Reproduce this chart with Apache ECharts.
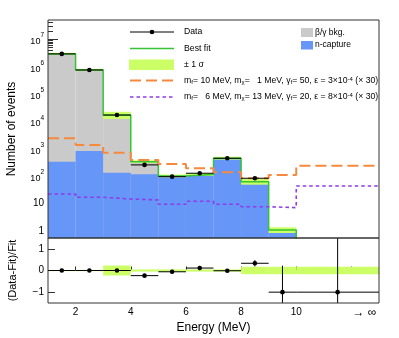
<!DOCTYPE html>
<html><head><meta charset="utf-8">
<script src="https://cdn.jsdelivr.net/npm/echarts@6/dist/echarts.min.js"></script>
<style>html,body{margin:0;padding:0;background:#fff}#c{width:399px;height:338px}</style>
</head><body><div id="c"></div>
<script>
// ---------- data ----------
const binEdges = [1, 2, 3, 4, 5, 6, 7, 8, 9, 10, 13];
const dataCounts = [2.9e6, 7.5e5, 1.7e4, 258, 96, 128, 450, 84, 0, 0];
const dataErrors = [1703, 866, 130, 16.1, 9.8, 11.3, 21.2, 9.2, 1.33, 1.33];
const fitNCapture = [338, 832, 134, 117, 98, 115, 455, 63, 1.09, 0.02];
const fitBetaGamma = [2.9e6, 7.49e5, 16870, 221, 4, 0, 0, 0, 0, 0];
const fitRelSigma = [0.025, 0.025, 0.23, 0.05, 0.05, 0.05, 0.05, 0.17, 0.17, 0.17];
const signalA = [2417, 1377, 721, 390, 279, 194, 139, 84, 111, 242];   // m_f=10, m_chi=1 (x30)
const signalB = [22.4, 17, 14.7, 13.5, 9.4, 12.1, 9.4, 7.7, 7.1, 43.9]; // m_f=6, m_chi=13 (x30)
const xTickValues = [2, 4, 6, 8, 10, 12];
const xTickLabels = ['2', '4', '6', '8', '10', '→ ∞'];
const yTickValues = [1, 10, 100, 1e3, 1e4, 1e5, 1e6, 1e7];
const yTickLabels = ['1', '10', '10^2', '10^3', '10^4', '10^5', '10^6', '10^7'];
const ratioTickValues = [-1, 0, 1];
const ratioTickLabels = ['−1', '0', '1'];

// ---------- styling ----------
const FONT = "'Liberation Sans', Arial, Helvetica, sans-serif";
const COL = {gray: '#cacaca', blue: '#6596f8', green: '#35c435', band: '#ccff66',
  orange: '#f7893f', purple: '#8e3de6', axis: '#333'};
const Y_MIN = 0.555, Y_MAX = 5.0e7;

const nb = dataCounts.length;
const fitTotal = fitNCapture.map((v, i) => v + fitBetaGamma[i]);
function stepPts(vals) {
  const p = vals.map((v, i) => [binEdges[i], v]);
  p.push([binEdges[nb], vals[nb - 1]]);
  return p;
}
const yMinor = [];
for (let p = -1; p <= 7; p++) for (let m = 2; m <= 9; m++) {
  const v = m * Math.pow(10, p);
  if (v > Y_MIN && v < Y_MAX) yMinor.push(v);
}

const histTotal = fitTotal.map((f, i) => [binEdges[i], binEdges[i + 1], f]);
const histNCap = fitNCapture.map((f, i) => [binEdges[i], binEdges[i + 1], f]);
const mainBand = fitTotal.map((f, i) => [binEdges[i], binEdges[i + 1], f, fitRelSigma[i]]);
const mainData = dataCounts.map((n, i) => [binEdges[i], binEdges[i + 1], n, dataErrors[i]]);
const ratioBand = fitRelSigma.map((s, i) => [binEdges[i], binEdges[i + 1], s]);
const ratioData = dataCounts.map((n, i) => [binEdges[i], binEdges[i + 1],
  (n - fitTotal[i]) / fitTotal[i], dataErrors[i] / fitTotal[i]]);

function lineEl(a, b, w) {
  return {type: 'line', shape: {x1: a[0], y1: a[1], x2: b[0], y2: b[1]}, style: {stroke: '#000', lineWidth: w || 1}};
}
function histRenderer(color) {
  return function (params, api) {
    const lo = api.value(0), hi = api.value(1), v = api.value(2);
    if (!(v > Y_MIN)) return null;
    const a = api.coord([lo, v]), b = api.coord([hi, Y_MIN]);
    return {type: 'rect', shape: {x: a[0], y: a[1], width: b[0] - a[0], height: b[1] - a[1]}, style: {fill: color}};
  };
}
function renderMainBand(params, api) {
  const lo = api.value(0), hi = api.value(1), f = api.value(2), s = api.value(3);
  if (!(f > Y_MIN)) return null;
  const a = api.coord([lo, f * (1 + s)]), b = api.coord([hi, Math.max(f * (1 - s), Y_MIN)]);
  return {type: 'rect', shape: {x: a[0], y: a[1] - 0.8, width: b[0] - a[0], height: b[1] - a[1] + 1.6}, style: {fill: COL.band}};
}
function renderMainData(params, api) {
  const lo = api.value(0), hi = api.value(1), n = api.value(2), e = api.value(3);
  if (!(n > 0)) return null;
  const xc = (lo + hi) / 2;
  const c = api.coord([xc, n]);
  return {type: 'group', children: [
    lineEl(api.coord([lo, n]), api.coord([hi, n])),
    lineEl(api.coord([xc, n + e]), api.coord([xc, Math.max(n - e, Y_MIN)])),
    {type: 'circle', shape: {cx: c[0], cy: c[1], r: 2.3}, style: {fill: '#000'}}
  ]};
}
function renderRatioBand(params, api) {
  const lo = api.value(0), hi = api.value(1), s = api.value(2);
  const a = api.coord([lo, s]), b = api.coord([hi, -s]);
  return {type: 'rect', shape: {x: a[0], y: a[1], width: b[0] - a[0], height: Math.max(b[1] - a[1], 1.2)}, style: {fill: COL.band}};
}
function renderRatioData(params, api) {
  const lo = api.value(0), hi = api.value(1), r = api.value(2), e = api.value(3);
  const xc = (lo + hi) / 2;
  const c = api.coord([xc, r]);
  return {type: 'group', children: [
    lineEl(api.coord([lo, r]), api.coord([hi, r])),
    lineEl(api.coord([xc, Math.min(r + e, 1.5)]), api.coord([xc, Math.max(r - e, -1.5)])),
    {type: 'circle', shape: {cx: c[0], cy: c[1], r: 2.3}, style: {fill: '#000'}}
  ]};
}

const chart = echarts.init(document.getElementById('c'), null, {renderer: 'canvas'});
const tickFont = {fontFamily: FONT, fontSize: 10, color: '#000'};

const legendRows = [
  {y: 32, text: 'Data'},
  {y: 48.5, text: 'Best fit'},
  {y: 64.7, text: '± 1 σ'},
  {y: 81, text: 'm{sub|f}= 10 MeV, m{sub|χ}=   1 MeV, γ{sub|f}= 50, ε = 3×10{sup|-4} (× 30)'},
  {y: 97, text: 'm{sub|f}=   6 MeV, m{sub|χ}= 13 MeV, γ{sub|f}= 20, ε = 8×10{sup|-4} (× 30)'}
];
const richSub = {
  sub: {fontSize: 6, fontFamily: FONT, verticalAlign: 'bottom', lineHeight: 7},
  sup: {fontSize: 6, fontFamily: FONT, verticalAlign: 'top', lineHeight: 7}
};
const graphics = [
  {type: 'rect', z: 100, shape: {x: 48, y: 20, width: 331, height: 218}, style: {fill: 'none', stroke: COL.axis, lineWidth: 1}},
  {type: 'rect', z: 100, shape: {x: 48, y: 238, width: 331, height: 65}, style: {fill: 'none', stroke: COL.axis, lineWidth: 1}},
  {type: 'line', z: 100, shape: {x1: 130, y1: 32, x2: 174, y2: 32}, style: {stroke: '#000', lineWidth: 1}},
  {type: 'circle', z: 100, shape: {cx: 152, cy: 32, r: 2.3}, style: {fill: '#000'}},
  {type: 'line', z: 100, shape: {x1: 130, y1: 48.5, x2: 174, y2: 48.5}, style: {stroke: COL.green, lineWidth: 1.5}},
  {type: 'rect', z: 100, shape: {x: 129, y: 59.5, width: 45, height: 10.5}, style: {fill: COL.band}},
  {type: 'line', z: 100, shape: {x1: 130, y1: 80.5, x2: 174, y2: 80.5}, style: {stroke: COL.orange, lineWidth: 2, lineDash: [11, 5]}},
  {type: 'line', z: 100, shape: {x1: 130, y1: 97, x2: 174, y2: 97}, style: {stroke: COL.purple, lineWidth: 1.6, lineDash: [3.5, 3]}},
  {type: 'rect', z: 100, shape: {x: 301, y: 28, width: 12, height: 9}, style: {fill: COL.gray}},
  {type: 'rect', z: 100, shape: {x: 301, y: 41, width: 12, height: 8.5}, style: {fill: COL.blue}},
  {type: 'text', z: 100, x: 315, y: 32.5, style: {text: 'β/γ bkg.', font: '8.5px ' + FONT, fill: '#000', verticalAlign: 'middle'}},
  {type: 'text', z: 100, x: 315, y: 45, style: {text: 'n-capture', font: '8.5px ' + FONT, fill: '#000', verticalAlign: 'middle'}}
];
legendRows.forEach(r => graphics.push({type: 'text', z: 100, x: 184, y: r.y,
  style: {text: r.text, font: '8.7px ' + FONT, fill: '#000', verticalAlign: 'middle', rich: richSub}}));

const option = {
  animation: false,
  backgroundColor: '#fff',
  grid: [
    {left: 48, top: 20, width: 331, height: 218, outerBoundsMode: 'none'},
    {left: 48, top: 238, width: 331, height: 65, outerBoundsMode: 'none'}
  ],
  xAxis: [
    {type: 'value', gridIndex: 0, min: 1, max: 13, axisLine: {show: false}, axisTick: {show: false},
     axisLabel: {show: false}, splitLine: {show: false}},
    {type: 'value', gridIndex: 1, min: 1, max: 13, axisLine: {show: false}, splitLine: {show: false},
     axisTick: {inside: true, length: 4, customValues: xTickValues, lineStyle: {color: COL.axis}},
     axisLabel: {customValues: xTickValues, margin: 4, ...tickFont,
       formatter: v => { const l = xTickLabels[xTickValues.indexOf(v)]; return v === 12 ? '{inf|' + l + '}' : l; },
       rich: {inf: {fontFamily: FONT, fontSize: 12, padding: [0, 0, 0, 26], color: '#000'}}},
     name: 'Energy (MeV)', nameLocation: 'middle', nameGap: 19,
     nameTextStyle: {fontFamily: FONT, fontSize: 12, color: '#000'}}
  ],
  yAxis: [
    {type: 'log', gridIndex: 0, min: Y_MIN, max: Y_MAX, axisLine: {show: false}, splitLine: {show: false},
     axisTick: {inside: true, length: 10, customValues: yTickValues, lineStyle: {color: COL.axis}},
     axisLabel: {customValues: yTickValues, margin: 4, ...tickFont,
       formatter: v => { const l = yTickLabels[yTickValues.indexOf(v)] || '';
         const k = l.indexOf('^'); return k < 0 ? l : '{b|' + l.slice(0, k) + '}{s|' + l.slice(k + 1) + '}'; },
       rich: {b: {fontFamily: FONT, fontSize: 9, color: '#000', lineHeight: 14, verticalAlign: 'bottom'},
              s: {fontFamily: FONT, fontSize: 6.5, color: '#000', lineHeight: 14, verticalAlign: 'top'}}},
     name: 'Number of events', nameLocation: 'middle', nameGap: 30,
     nameTextStyle: {fontFamily: FONT, fontSize: 12, color: '#000'}},
    {type: 'log', gridIndex: 0, min: Y_MIN, max: Y_MAX, position: 'left', axisLine: {show: false},
     splitLine: {show: false}, axisLabel: {show: false},
     axisTick: {inside: true, length: 5, customValues: yMinor, lineStyle: {color: COL.axis}}},
    {type: 'value', gridIndex: 1, min: -1.5, max: 1.5, axisLine: {show: false}, splitLine: {show: false},
     axisTick: {inside: true, length: 7, customValues: ratioTickValues, lineStyle: {color: COL.axis}},
     axisLabel: {customValues: ratioTickValues, margin: 4, ...tickFont,
       formatter: v => ratioTickLabels[ratioTickValues.indexOf(v)]},
     name: '(Data-Fit)/Fit', nameLocation: 'middle', nameGap: 30,
     nameTextStyle: {fontFamily: FONT, fontSize: 11, color: '#000'}}
  ],
  series: [
    {name: 'β/γ bkg.', type: 'custom', xAxisIndex: 0, yAxisIndex: 0, data: histTotal, renderItem: histRenderer(COL.gray),
     encode: {x: [0, 1], y: 2}, clip: true, z: 2},
    {name: 'n-capture', type: 'custom', xAxisIndex: 0, yAxisIndex: 0, data: histNCap, renderItem: histRenderer(COL.blue),
     encode: {x: [0, 1], y: 2}, clip: true, z: 2},
    {name: '± 1 σ', type: 'custom', xAxisIndex: 0, yAxisIndex: 0, data: mainBand, renderItem: renderMainBand,
     encode: {x: [0, 1], y: 2}, clip: true, z: 3},
    {name: 'Best fit', type: 'line', xAxisIndex: 0, yAxisIndex: 0, data: stepPts(fitTotal), step: 'end',
     symbol: 'none', lineStyle: {color: COL.green, width: 1.5}, z: 4},
    {name: 'signal A', type: 'line', xAxisIndex: 0, yAxisIndex: 0, data: stepPts(signalA), step: 'end',
     symbol: 'none', lineStyle: {color: COL.orange, width: 2, type: [11, 5]}, z: 5},
    {name: 'signal B', type: 'line', xAxisIndex: 0, yAxisIndex: 0, data: stepPts(signalB), step: 'end',
     symbol: 'none', lineStyle: {color: COL.purple, width: 1.6, type: [3.5, 3]}, z: 5},
    {name: 'Data', type: 'custom', xAxisIndex: 0, yAxisIndex: 0, data: mainData, renderItem: renderMainData,
     encode: {x: [0, 1], y: 2}, clip: true, z: 6},
    {name: 'ratio band', type: 'custom', xAxisIndex: 1, yAxisIndex: 2, data: ratioBand, renderItem: renderRatioBand,
     encode: {x: [0, 1], y: 2}, clip: true, z: 3},
    {name: 'ratio', type: 'custom', xAxisIndex: 1, yAxisIndex: 2, data: ratioData, renderItem: renderRatioData,
     encode: {x: [0, 1], y: 2}, clip: true, z: 6}
  ],
  graphic: {elements: graphics}
};
chart.setOption(option);
</script></body></html>
